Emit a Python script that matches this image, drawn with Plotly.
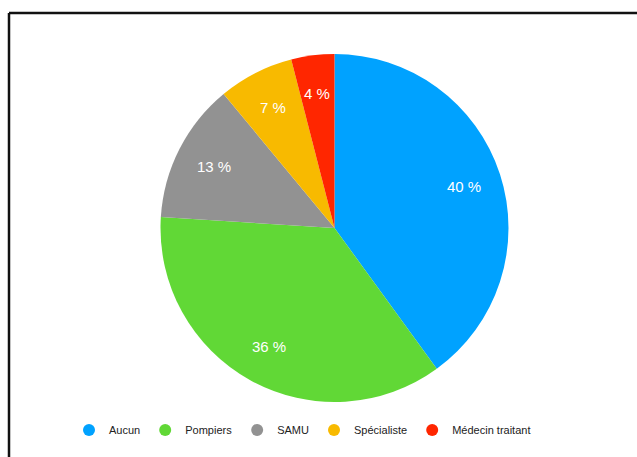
import math
import plotly.graph_objects as go

# Répartition des premiers intervenants
categories = ["Aucun", "Pompiers", "SAMU", "Spécialiste", "Médecin traitant"]
values = [40, 36, 13, 7, 4]
colors = ["#00A2FF", "#61D836", "#929292", "#F8BA00", "#FF2600"]

W, H = 637, 457
CX, CY, R = 334.5, 228.0, 174.0   # pie centre and radius, in pixels
LABEL_R = 0.78                    # radial position of the percentage labels

fig = go.Figure()

fig.add_trace(go.Pie(
    labels=categories,
    values=values,
    marker=dict(colors=colors, line=dict(width=0)),
    sort=False,
    direction="clockwise",
    rotation=0,
    textinfo="none",
    hoverinfo="label+percent",
    showlegend=False,
    domain=dict(
        x=[(CX - R) / W, (CX + R) / W],
        y=[1 - (CY + R) / H, 1 - (CY - R) / H],
    ),
))

# Percentage labels placed along each slice's bisector
total = sum(values)
cum = 0.0
for cat, v in zip(categories, values):
    mid = (cum + v / 2) / total * 2 * math.pi
    cum += v
    px = CX + LABEL_R * R * math.sin(mid)
    py = CY - LABEL_R * R * math.cos(mid)
    fig.add_annotation(
        x=px / W, y=1 - py / H, xref="paper", yref="paper",
        text=f"{round(v / total * 100)} %", showarrow=False,
        font=dict(family="Liberation Sans, Arial, sans-serif", size=15, color="white"),
        xanchor="center", yanchor="middle",
    )

# Legend entries with round markers
for cat, c in zip(categories, colors):
    fig.add_trace(go.Scatter(
        x=[None], y=[None], mode="markers", name=cat,
        marker=dict(symbol="circle", size=11, color=c),
        showlegend=True,
    ))

fig.update_layout(
    width=W, height=H,
    margin=dict(l=0, r=0, t=0, b=0),
    paper_bgcolor="white",
    plot_bgcolor="white",
    xaxis=dict(visible=False),
    yaxis=dict(visible=False),
    legend=dict(
        orientation="h",
        x=69 / W, xanchor="left",
        y=1 - 430 / H, yanchor="middle",
        font=dict(family="Liberation Sans, Arial, sans-serif", size=11, color="#222222"),
        itemsizing="constant",
        bgcolor="rgba(0,0,0,0)",
    ),
    shapes=[
        dict(type="line", xref="paper", yref="paper",
             x0=9 / W, x1=1, y0=1 - 13 / H, y1=1 - 13 / H,
             line=dict(color="#111111", width=2.5)),
        dict(type="line", xref="paper", yref="paper",
             x0=9 / W, x1=9 / W, y0=0, y1=1 - 13 / H,
             line=dict(color="#111111", width=2.5)),
    ],
)

fig.write_html("out.html")
